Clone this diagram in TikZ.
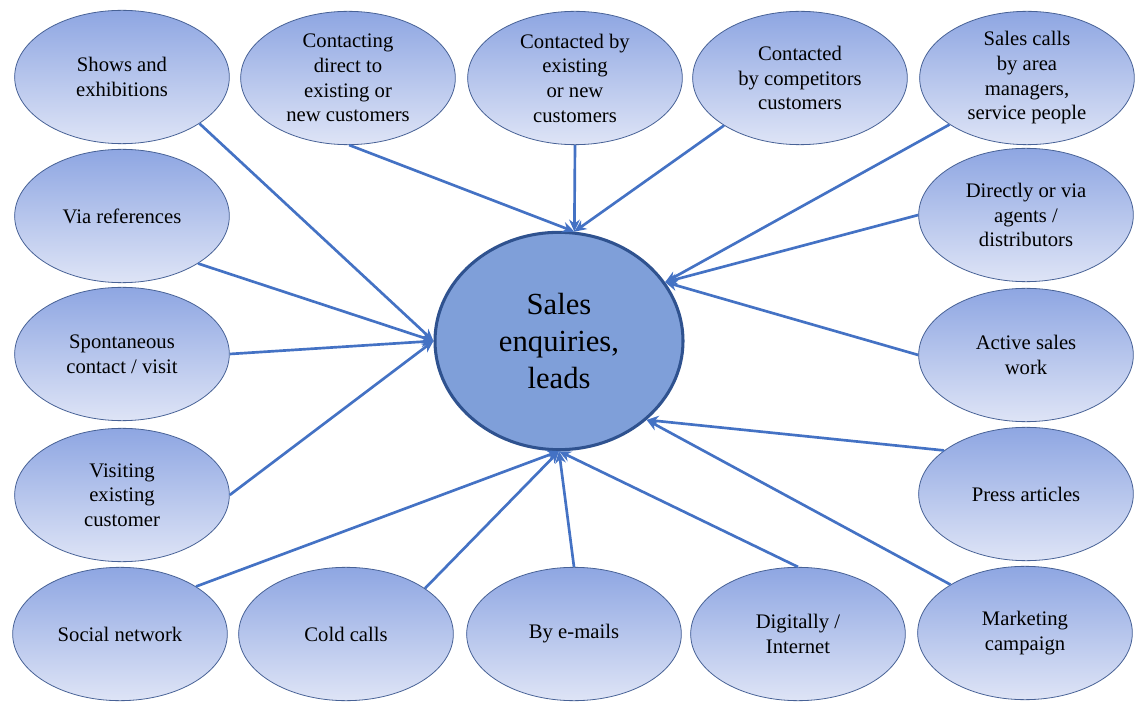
\documentclass[tikz,border=0pt]{standalone}
\usepackage{fontspec}
\setmainfont{Liberation Serif}
\usetikzlibrary{arrows.meta,shapes.geometric}

\definecolor{ringblue}{RGB}{72,98,150}
\definecolor{topfill}{RGB}{142,166,226}
\definecolor{botfill}{RGB}{222,228,246}
\definecolor{hubfill}{RGB}{127,159,217}
\definecolor{hubline}{RGB}{47,82,143}
\definecolor{linkblue}{RGB}{68,114,196}

\begin{document}
\begin{tikzpicture}[x=0.75pt, y=-0.75pt, >=Stealth]

\tikzset{
  source/.style={
    ellipse, draw=ringblue, line width=0.6pt,
    top color=topfill, bottom color=botfill,
    minimum width=161pt, minimum height=100pt,
    inner sep=-3pt, align=center,
    font=\fontsize{15.5}{18.5}\selectfont
  },
  hub/.style={
    ellipse, draw=hubline, line width=2.3pt, fill=hubfill,
    minimum width=186pt, minimum height=163pt,
    inner sep=0pt, align=center,
    font=\fontsize{23}{27.5}\selectfont
  },
  arrow/.style={-{Stealth[length=9pt, width=8pt]}, draw=linkblue, line width=2pt}
}

\useasboundingbox (0,0) rectangle (1135,702);

% ==========================
% Centro
% ==========================
\node[hub] (leads) at (559,341) {Sales\\enquiries,\\leads};

\coordinate (inW)  at (leads.180);
\coordinate (inN)  at (leads.82);
\coordinate (inNE) at (leads.29);
\coordinate (inSE) at (leads.-42);
\coordinate (inS)  at (leads.-90);

% ==========================
% Fila superior
% ==========================
\node[source] (shows)   at (122,77)  {Shows and\\exhibitions};
\node[source] (direct)  at (348,78)  {Contacting\\direct to\\existing or\\new customers};
\node[source] (byexist) at (575,78)  {Contacted by\\existing\\or new\\customers};
\node[source] (compet)  at (800,78)  {Contacted\\by competitors\\customers};
\node[source] (area)    at (1027,78) {Sales calls\\by area\\managers,\\service people};

% ==========================
% Columna derecha
% ==========================
\node[source] (agents) at (1026,215) {Directly or via\\agents /\\distributors};
\node[source] (active) at (1026,355) {Active sales\\work};
\node[source] (press)  at (1026,494) {Press articles};
\node[source] (mkt)    at (1025,633) {Marketing\\campaign};

% ==========================
% Columna izquierda
% ==========================
\node[source] (refs)  at (122,216) {Via references};
\node[source] (spont) at (122,354) {Spontaneous\\contact / visit};
\node[source] (visit) at (122,495) {Visiting\\existing\\customer};

% ==========================
% Fila inferior
% ==========================
\node[source] (social) at (120,634) {Social network};
\node[source] (cold)   at (346,634) {Cold calls};
\node[source] (mail)   at (574,634) {By e-mails};
\node[source] (web)    at (798,634) {Digitally /\\Internet};

% ==========================
% Flechas hacia el centro
% ==========================
\draw[arrow] (shows.-31) -- (inW);
\draw[arrow] (refs.-32) -- (inW);
\draw[arrow] (spont.0) -- (inW);
\draw[arrow] (visit.0) -- (inW);

\draw[arrow] (direct.-89) -- (inN);
\draw[arrow] (byexist.-90) -- (inN);
\draw[arrow] (compet.-148) -- (inN);

\draw[arrow] (area.-149) -- (inNE);
\draw[arrow] (agents.180) -- (inNE);
\draw[arrow] (active.180) -- (inNE);

\draw[arrow] (press.152) -- (inSE);
\draw[arrow] (mkt.147) -- (inSE);

\draw[arrow] (social.32) -- (inS);
\draw[arrow] (cold.30) -- (inS);
\draw[arrow] (mail.90) -- (inS);
\draw[arrow] (web.90) -- (inS);

\end{tikzpicture}
\end{document}
